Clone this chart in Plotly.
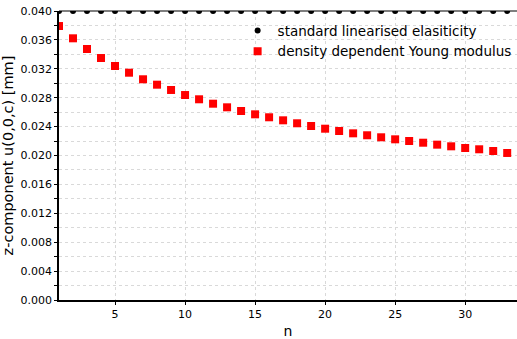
import plotly.graph_objects as go

n = list(range(1, 34))
standard = [0.040] * 33
density = [0.03792, 0.03622, 0.03474, 0.03349, 0.03239, 0.03146, 0.03055, 0.02980, 0.02907,
           0.02837, 0.02778, 0.02717, 0.02667, 0.02616, 0.02570, 0.02529, 0.02487, 0.02446,
           0.02408, 0.02371, 0.02339, 0.02307, 0.02280, 0.02252, 0.02224, 0.02201, 0.02177,
           0.02150, 0.02127, 0.02104, 0.02086, 0.02062, 0.02035]
yticks = [0.000, 0.004, 0.008, 0.012, 0.016, 0.020, 0.024, 0.028, 0.032, 0.036, 0.040]

fig = go.Figure()
fig.add_trace(go.Scatter(x=n, y=standard, mode="markers", name="standard linearised elasiticity",
                         marker=dict(color="black", size=6, symbol="circle")))
fig.add_trace(go.Scatter(x=n, y=density, mode="markers", name="density dependent Young modulus",
                         marker=dict(color="#ff0000", size=8, symbol="square")))

fig.update_layout(
    width=517, height=339,
    margin=dict(l=59, r=0, t=11, b=39),
    paper_bgcolor="white", plot_bgcolor="white",
    font=dict(family="DejaVu Sans", color="black"),
    legend=dict(x=0.39, y=0.985, xanchor="left", yanchor="top", bgcolor="rgba(0,0,0,0)",
                font=dict(size=13.5), tracegroupgap=0),
    xaxis=dict(range=[1, 33.7], tick0=5, dtick=5, showline=True, linecolor="black", linewidth=1.5,
               ticks="outside", ticklen=3, tickcolor="black", tickfont=dict(size=11),
               showgrid=True, gridcolor="#d9d9d9", griddash="dot", gridwidth=1, zeroline=False,
               title=dict(text="n", font=dict(size=14), standoff=6)),
    yaxis=dict(range=[0, 0.040], tickvals=yticks, tickformat=".3f", showline=True, linecolor="black",
               linewidth=1.5, ticks="outside", ticklen=3, tickcolor="black", tickfont=dict(size=11),
               showgrid=True, gridcolor="#d9d9d9", griddash="dot", gridwidth=1, zeroline=False,
               minor=dict(dtick=0.002, tick0=0, ticks="outside", ticklen=3, tickcolor="black",
                          showgrid=True, gridcolor="#d9d9d9", griddash="dot"),
               title=dict(text="z-component u(0,0,c) [mm]", font=dict(size=14.5), standoff=3)),
)
fig.add_shape(type="line", xref="paper", yref="paper", x0=0, x1=1, y0=1, y1=1,
              line=dict(color="#555555", width=1.5), layer="below")
fig.write_html("out.html")
